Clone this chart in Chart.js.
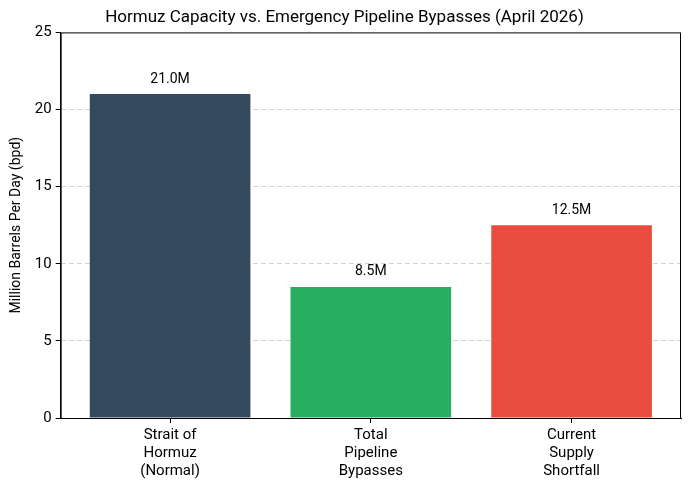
<!DOCTYPE html>
<html>
<head>
<meta charset="utf-8">
<script src="https://cdn.jsdelivr.net/npm/chart.js@4.4.1/dist/chart.umd.min.js"></script>
<style>
  html, body { margin: 0; padding: 0; background: #fff; }
  #wrap { width: 689px; height: 490px; }
</style>
</head>
<body>
<div id="wrap"><canvas id="barChart"></canvas></div>
<script>
const categories = [
    ['Strait of', 'Hormuz', '(Normal)'],
    ['Total', 'Pipeline', 'Bypasses'],
    ['Current', 'Supply', 'Shortfall']
];
const values = [21.0, 8.5, 12.5];
const valueLabels = ['21.0M', '8.5M', '12.5M'];
const barColors = ['#34495e', '#27ae60', '#e74c3c'];
const yTicks = [0, 5, 10, 15, 20, 25];

const FONT = 'Roboto, "Open Sans", sans-serif';

// frame + value labels
const framePlugin = {
    id: 'frame',
    afterDatasetsDraw(chart) {
        const { ctx, chartArea } = chart;
        ctx.save();
        ctx.strokeStyle = '#000';
        ctx.lineWidth = 1;
        ctx.strokeRect(chartArea.left + 0.5, chartArea.top + 0.5,
            chartArea.right - chartArea.left - 1, chartArea.bottom - chartArea.top);
        const meta = chart.getDatasetMeta(0);
        ctx.fillStyle = '#000';
        ctx.font = '14px ' + FONT;
        ctx.textAlign = 'center';
        ctx.textBaseline = 'middle';
        meta.data.forEach((bar, i) => {
            ctx.fillText(valueLabels[i], bar.x, bar.y - 15);
        });
        ctx.restore();
    }
};

const barConfig = {
    type: 'bar',
    data: {
        datasets: [{
            data: values.map((v, i) => ({ x: i, y: v })),
            backgroundColor: barColors,
            borderWidth: 0,
            barPercentage: 0.8,
            categoryPercentage: 1.0
        }]
    },
    options: {
        responsive: false,
        animation: false,
        layout: { padding: { left: 8, right: 8, top: 0, bottom: 7 } },
        scales: {
            x: {
                type: 'linear',
                min: -0.545,
                max: 2.545,
                offset: false,
                afterBuildTicks(axis) {
                    axis.ticks = categories.map((c, i) => ({ value: i }));
                },
                grid: {
                    offset: false,
                    drawOnChartArea: false,
                    color: '#000',
                    tickLength: 5
                },
                border: { color: '#000' },
                ticks: {
                    color: '#000',
                    font: { family: FONT, size: 15, lineHeight: 1.2 },
                    padding: 3,
                    maxRotation: 0,
                    callback: v => categories[v]
                }
            },
            y: {
                min: 0,
                max: 25,
                afterBuildTicks(axis) {
                    axis.ticks = yTicks.map(v => ({ value: v }));
                },
                grid: {
                    color: c => (c.tick && (c.tick.value === 0 || c.tick.value === 25)) ? 'rgba(0,0,0,0)' : '#d3d3d3',
                    tickColor: '#000',
                    tickLength: 5,
                    tickBorderDash: [],
                    lineWidth: 1
                },
                border: { color: '#000', dash: [5, 3] },
                ticks: {
                    color: '#000',
                    font: { family: FONT, size: 15 },
                    padding: 4
                },
                title: {
                    display: true,
                    text: 'Million Barrels Per Day (bpd)',
                    color: '#000',
                    font: { family: FONT, size: 14 },
                    padding: { top: 0, bottom: 6 }
                }
            }
        },
        plugins: {
            legend: { display: false },
            tooltip: { enabled: false },
            title: {
                display: true,
                text: 'Hormuz Capacity vs. Emergency Pipeline Bypasses (April 2026)',
                color: '#000',
                font: { family: FONT, size: 17, weight: 'normal' },
                padding: { top: 8, bottom: 4 }
            }
        }
    },
    plugins: [framePlugin]
};

const canvas = document.getElementById('barChart');
canvas.width = 689;
canvas.height = 490;
let barChart = new Chart(canvas, barConfig);
</script>
</body>
</html>
